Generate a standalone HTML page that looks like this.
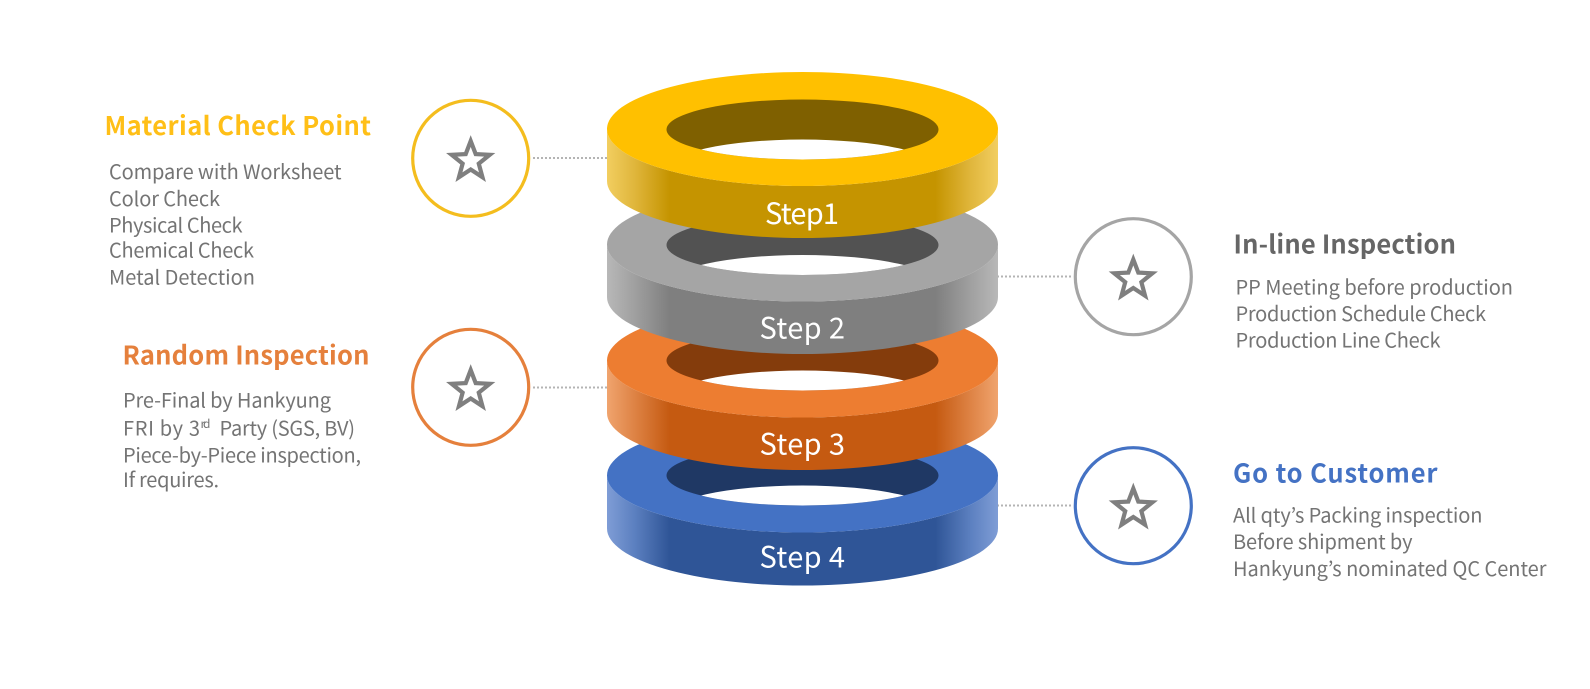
<!DOCTYPE html>
<html><head><meta charset="utf-8"><style>
html,body{margin:0;padding:0;background:#fff}
svg{display:block}
text{font-family:"Noto Sans CJK KR","Liberation Sans",sans-serif}
.h{font-size:25.5px;font-weight:700}
.b{font-size:20px;fill:#747474}
.s{font-size:29px;fill:#fff}
.sm{font-size:12px;fill:#747474}
.d{stroke:#b4b4b4;stroke-width:2;stroke-dasharray:2 2;fill:none}
.c{fill:#fff;stroke-width:3.2}
.st{fill:none;stroke:#7f7f7f;stroke-width:4.2;stroke-miterlimit:10}
</style></head><body>
<svg width="1590" height="689" viewBox="0 0 1590 689" xmlns="http://www.w3.org/2000/svg">
<defs>
<linearGradient id="gY" x1="0" x2="1" y1="0" y2="0"><stop offset="0" stop-color="#F2CE60"/><stop offset=".07" stop-color="#E0B63C"/><stop offset=".16" stop-color="#C59400"/><stop offset=".84" stop-color="#C59400"/><stop offset=".93" stop-color="#E0B63C"/><stop offset="1" stop-color="#F2CE60"/></linearGradient>
<linearGradient id="gG" x1="0" x2="1" y1="0" y2="0"><stop offset="0" stop-color="#B8B8B8"/><stop offset=".07" stop-color="#A0A0A0"/><stop offset=".16" stop-color="#7F7F7F"/><stop offset=".84" stop-color="#7F7F7F"/><stop offset=".93" stop-color="#A0A0A0"/><stop offset="1" stop-color="#B8B8B8"/></linearGradient>
<linearGradient id="gO" x1="0" x2="1" y1="0" y2="0"><stop offset="0" stop-color="#F0A46E"/><stop offset=".07" stop-color="#DE8345"/><stop offset=".16" stop-color="#C55A11"/><stop offset=".84" stop-color="#C55A11"/><stop offset=".93" stop-color="#DE8345"/><stop offset="1" stop-color="#F0A46E"/></linearGradient>
<linearGradient id="gB" x1="0" x2="1" y1="0" y2="0"><stop offset="0" stop-color="#7F9DD6"/><stop offset=".07" stop-color="#5C80C0"/><stop offset=".16" stop-color="#2F5597"/><stop offset=".84" stop-color="#2F5597"/><stop offset=".93" stop-color="#5C80C0"/><stop offset="1" stop-color="#7F9DD6"/></linearGradient>
<clipPath id="c1"><ellipse cx="802.5" cy="129.5" rx="136" ry="30"/></clipPath>
<clipPath id="c2"><ellipse cx="802.5" cy="245" rx="136" ry="30"/></clipPath>
<clipPath id="c3"><ellipse cx="802.5" cy="360.5" rx="136" ry="30"/></clipPath>
<clipPath id="c4"><ellipse cx="802.5" cy="475.5" rx="136" ry="30"/></clipPath>
<polygon id="star" class="st" points="0,-20 5,-6.88 19.02,-6.18 8.08,2.63 11.76,16.18 0,8.5 -11.76,16.18 -8.08,2.63 -19.02,-6.18 -5,-6.88"/>
</defs>

<!-- dotted connectors -->
<line class="d" x1="533" y1="158" x2="620" y2="158"/>
<line class="d" x1="985" y1="276.5" x2="1072" y2="276.5"/>
<line class="d" x1="533" y1="387.5" x2="620" y2="387.5"/>
<line class="d" x1="985" y1="505.5" x2="1072" y2="505.5"/>

<!-- ring 4 -->
<path fill="url(#gB)" d="M607,475.5 A195.5,57 0 0 0 998,475.5 L998,528.5 A195.5,57 0 0 1 607,528.5 Z"/>
<ellipse cx="802.5" cy="475.5" rx="195.5" ry="57" fill="#4472C4"/>
<ellipse cx="802.5" cy="475.5" rx="136" ry="30" fill="#1F3864"/>
<ellipse cx="802.5" cy="515.5" rx="136" ry="30" fill="#fff" clip-path="url(#c4)"/>
<!-- ring 3 -->
<path fill="url(#gO)" d="M607,360.5 A195.5,57 0 0 0 998,360.5 L998,413 A195.5,57 0 0 1 607,413 Z"/>
<ellipse cx="802.5" cy="360.5" rx="195.5" ry="57" fill="#ED7D31"/>
<ellipse cx="802.5" cy="360.5" rx="136" ry="30" fill="#843C0C"/>
<ellipse cx="802.5" cy="400.5" rx="136" ry="30" fill="#fff" clip-path="url(#c3)"/>
<!-- ring 2 -->
<path fill="url(#gG)" d="M607,244.5 A195.5,57 0 0 0 998,244.5 L998,297 A195.5,57 0 0 1 607,297 Z"/>
<ellipse cx="802.5" cy="244.5" rx="195.5" ry="57" fill="#A5A5A5"/>
<ellipse cx="802.5" cy="245" rx="136" ry="30" fill="#525252"/>
<ellipse cx="802.5" cy="285" rx="136" ry="30" fill="#fff" clip-path="url(#c2)"/>
<!-- ring 1 -->
<path fill="url(#gY)" d="M607,129 A195.5,57 0 0 0 998,129 L998,181 A195.5,57 0 0 1 607,181 Z"/>
<ellipse cx="802.5" cy="129" rx="195.5" ry="57" fill="#FFC000"/>
<ellipse cx="802.5" cy="129.5" rx="136" ry="30" fill="#7F6000"/>
<ellipse cx="802.5" cy="169.5" rx="136" ry="30" fill="#fff" clip-path="url(#c1)"/>

<!-- step labels -->
<text class="s" x="765" y="224" textLength="74" lengthAdjust="spacing">Step1</text>
<text class="s" x="759.5" y="338.5" textLength="85.5" lengthAdjust="spacing">Step 2</text>
<text class="s" x="759.5" y="454.5" textLength="85.5" lengthAdjust="spacing">Step 3</text>
<text class="s" x="759.5" y="567.5" textLength="85.5" lengthAdjust="spacing">Step 4</text>

<!-- circles -->
<circle class="c" cx="470.7" cy="158.3" r="58" stroke="#F4BD1E"/>
<circle class="c" cx="1133.3" cy="276.7" r="58" stroke="#A5A5A5"/>
<circle class="c" cx="470.7" cy="387.3" r="58" stroke="#E5803C"/>
<circle class="c" cx="1133.3" cy="505.7" r="58" stroke="#4472C4"/>
<use href="#star" x="470.7" y="161"/>
<use href="#star" x="1133.3" y="279.5"/>
<use href="#star" x="470.7" y="390"/>
<use href="#star" x="1133.3" y="508.5"/>

<!-- Material -->
<text class="h" fill="#FFBF17" x="104.5" y="135" textLength="266.5" lengthAdjust="spacing">Material Check Point</text>
<text class="b" x="109" y="179" textLength="232.5" lengthAdjust="spacing">Compare with Worksheet</text>
<text class="b" x="109" y="206" textLength="111" lengthAdjust="spacing">Color Check</text>
<text class="b" x="109" y="232.5" textLength="133.5" lengthAdjust="spacing">Physical Check</text>
<text class="b" x="109" y="257.5" textLength="145" lengthAdjust="spacing">Chemical Check</text>
<text class="b" x="109" y="284.5" textLength="146" lengthAdjust="spacing">Metal Detection</text>

<!-- Random -->
<text class="h" fill="#E5803C" x="122.5" y="364.5" textLength="247" lengthAdjust="spacing">Random Inspection</text>
<text class="b" x="123" y="407.5" textLength="208" lengthAdjust="spacing">Pre-Final by Hankyung</text>
<text class="b" x="123" y="435.5" textLength="77" lengthAdjust="spacing">FRI by 3</text>
<text class="sm" x="200.5" y="428" textLength="10" lengthAdjust="spacing">rd</text>
<text class="b" x="219.5" y="435.5" textLength="135.5" lengthAdjust="spacing">Party (SGS, BV)</text>
<text class="b" x="123" y="462.5" textLength="238" lengthAdjust="spacing">Piece-by-Piece inspection,</text>
<text class="b" x="123" y="487" textLength="96" lengthAdjust="spacing">If requires.</text>

<!-- In-line -->
<text class="h" fill="#666666" x="1233.5" y="253.5" textLength="222.5" lengthAdjust="spacing">In-line Inspection</text>
<text class="b" x="1235.5" y="294.5" textLength="277.5" lengthAdjust="spacing">PP Meeting before production</text>
<text class="b" x="1235.5" y="321" textLength="250.5" lengthAdjust="spacing">Production Schedule Check</text>
<text class="b" x="1235.5" y="347.5" textLength="205" lengthAdjust="spacing">Production Line Check</text>

<!-- Go to Customer -->
<text class="h" fill="#4472C4" x="1233" y="482.5" textLength="204.5" lengthAdjust="spacing">Go to Customer</text>
<text class="b" x="1233" y="522.5" textLength="249.5" lengthAdjust="spacing">All qty’s Packing inspection</text>
<text class="b" x="1233" y="549" textLength="179.5" lengthAdjust="spacing">Before shipment by</text>
<text class="b" x="1233" y="576" textLength="313.5" lengthAdjust="spacing">Hankyung’s nominated QC Center</text>
</svg>
</body></html>
